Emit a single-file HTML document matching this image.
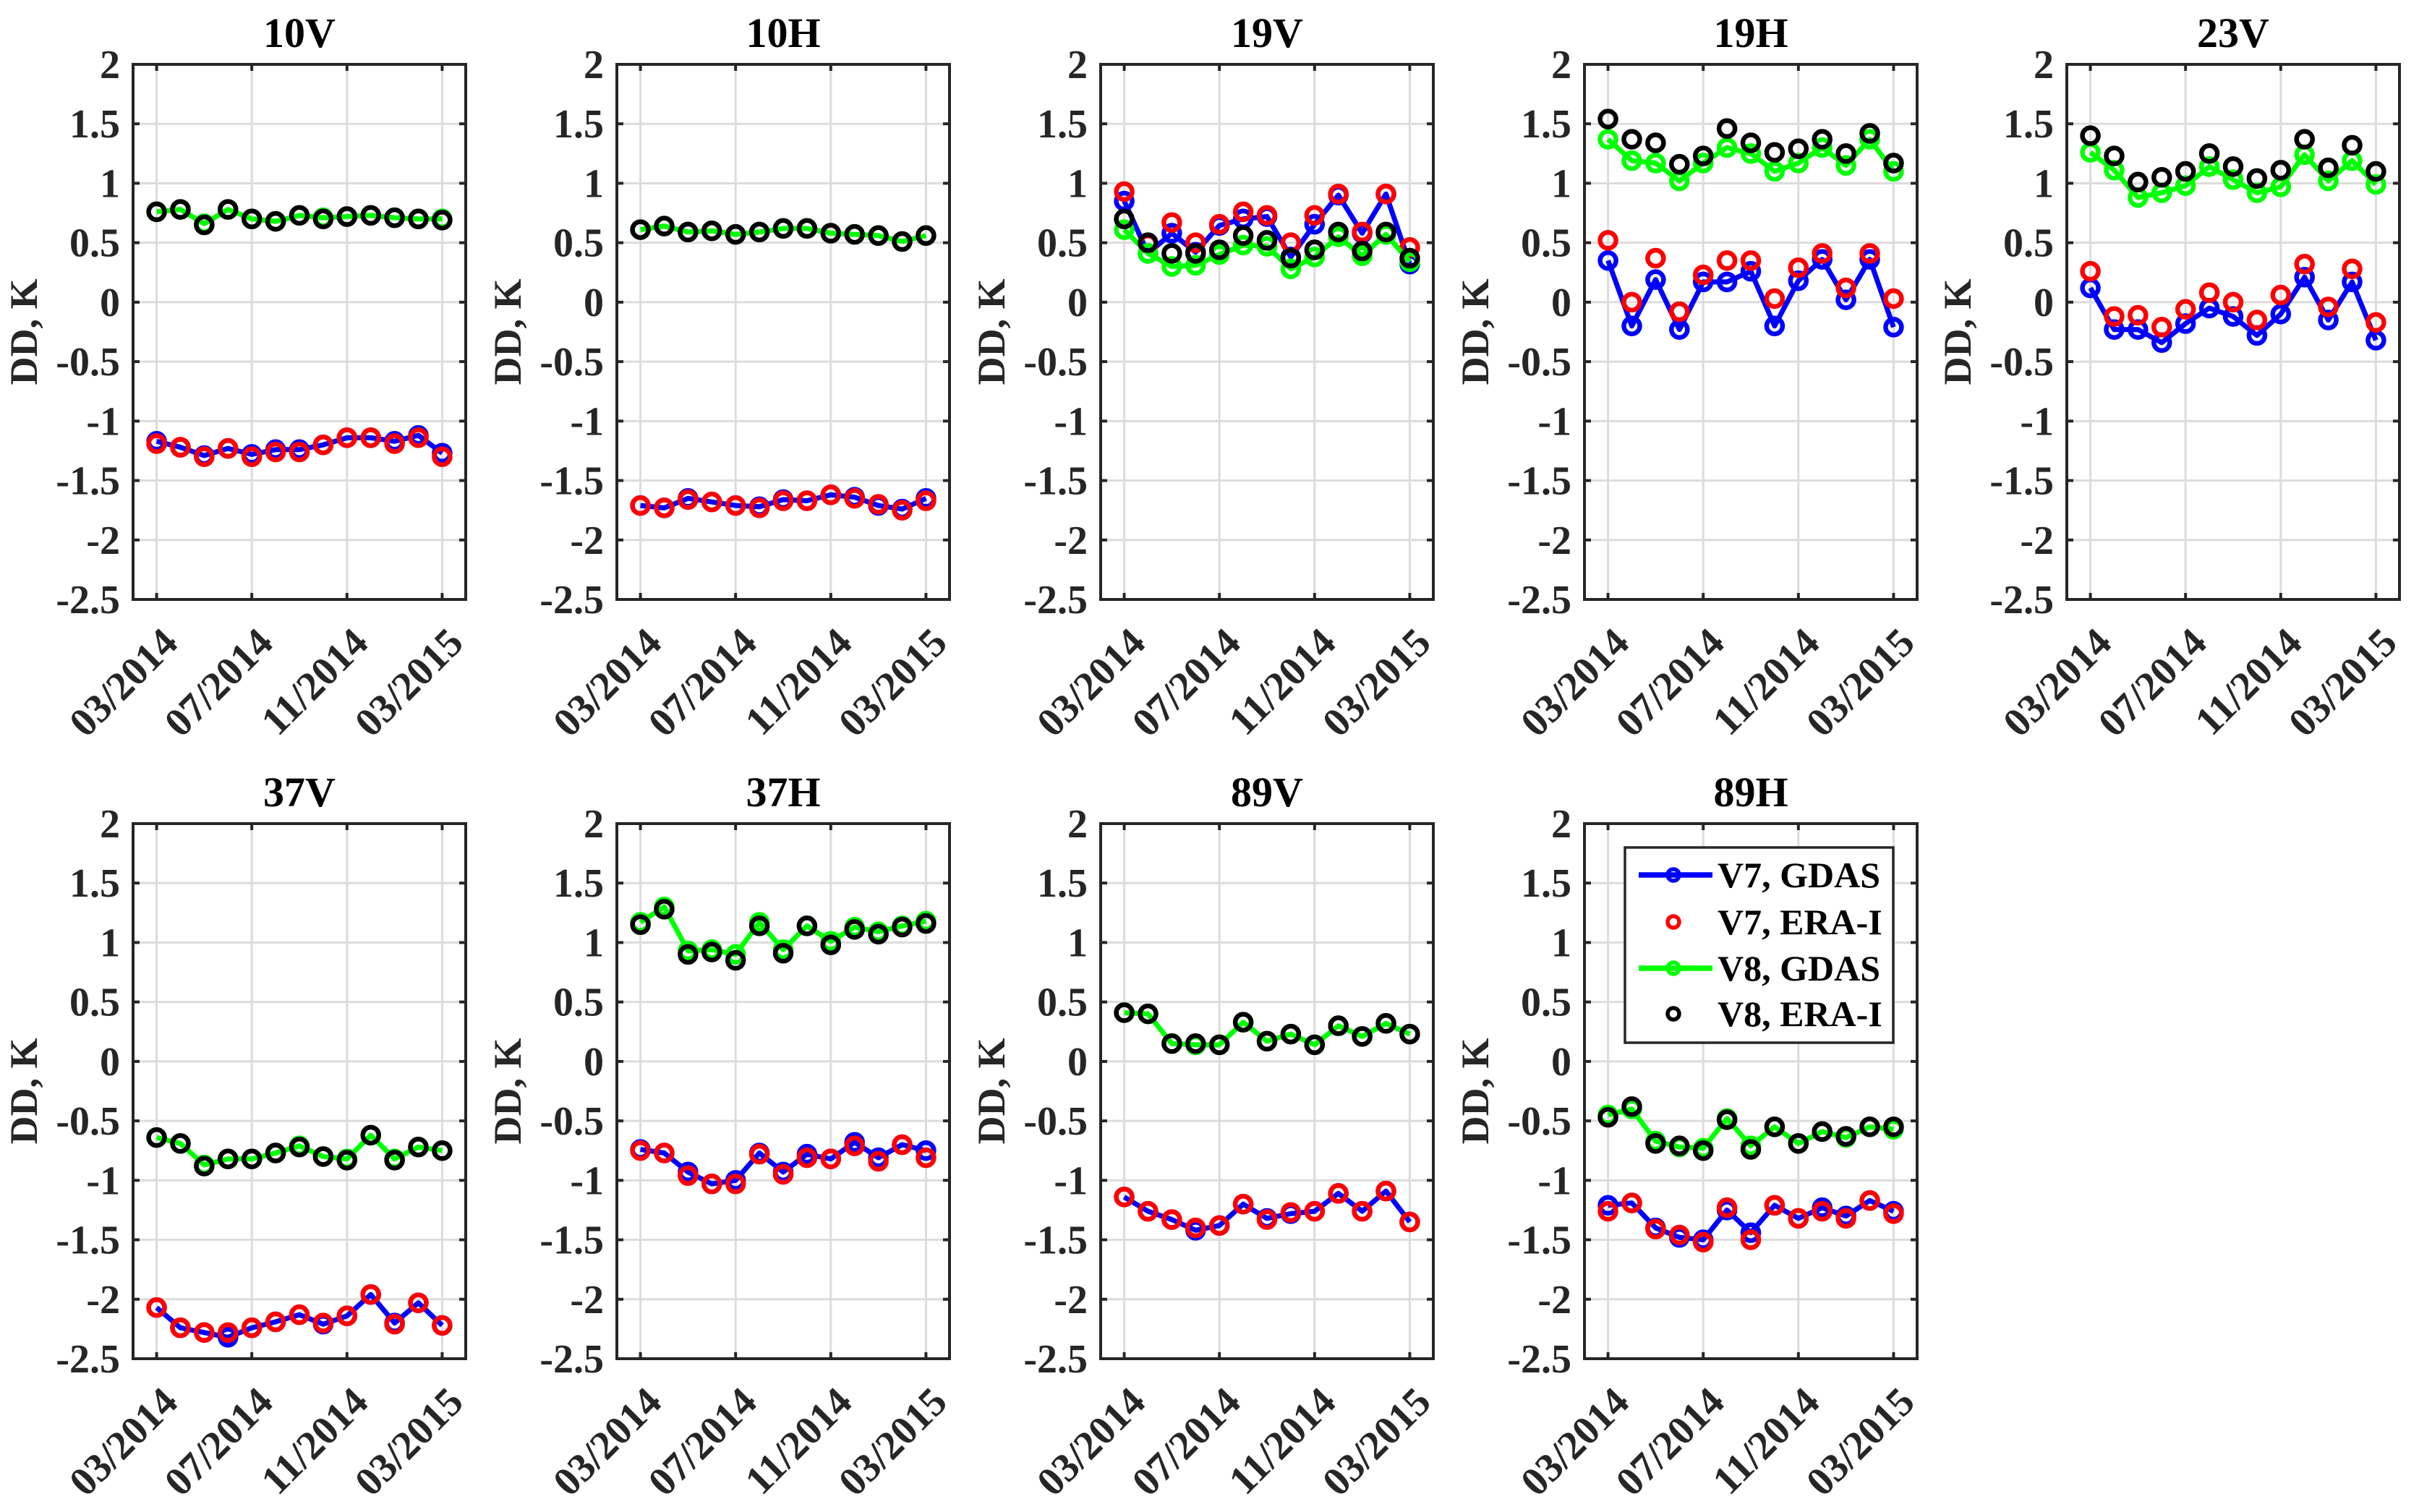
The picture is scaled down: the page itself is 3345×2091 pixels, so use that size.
<!DOCTYPE html>
<html><head><meta charset="utf-8">
<style>
html,body{margin:0;padding:0;background:#fff;}
svg{display:block;}
text{font-family:"Liberation Serif","DejaVu Serif",serif;font-weight:bold;}
</style></head>
<body>
<svg id="fig" width="3345" height="2091" viewBox="0 0 3345 2091" xmlns="http://www.w3.org/2000/svg"></svg>
<script>
// ---- data ----
const panelTitles = ["10V","10H","19V","19H","23V","37V","37H","89V","89H"];
const monthIndex = [0,1,2,3,4,5,6,7,8,9,10,11,12];
const xTickMonths = [0,4,8,12];
const xTickLabels = ["03/2014","07/2014","11/2014","03/2015"];
const yTicks = [2,1.5,1,0.5,0,-0.5,-1,-1.5,-2,-2.5];
const yTickLabels = ["2","1.5","1","0.5","0","-0.5","-1","-1.5","-2","-2.5"];
const seriesNames = ["V7, GDAS","V7, ERA-I","V8, GDAS","V8, ERA-I"];

const v7gdas_10V = [-1.17,-1.22,-1.29,-1.23,-1.28,-1.24,-1.24,-1.20,-1.14,-1.14,-1.17,-1.12,-1.27];
const v7era_10V  = [-1.19,-1.22,-1.30,-1.23,-1.30,-1.26,-1.26,-1.20,-1.14,-1.14,-1.19,-1.14,-1.30];
const v8gdas_10V = [0.76,0.78,0.66,0.78,0.70,0.68,0.73,0.71,0.72,0.73,0.71,0.70,0.70];
const v8era_10V  = [0.76,0.78,0.65,0.78,0.70,0.68,0.73,0.70,0.72,0.73,0.71,0.70,0.69];

const v7gdas_10H = [-1.71,-1.73,-1.65,-1.68,-1.71,-1.72,-1.66,-1.67,-1.62,-1.64,-1.71,-1.74,-1.65];
const v7era_10H  = [-1.71,-1.73,-1.66,-1.68,-1.71,-1.73,-1.67,-1.67,-1.62,-1.65,-1.70,-1.75,-1.67];
const v8gdas_10H = [0.61,0.64,0.59,0.60,0.57,0.59,0.62,0.62,0.58,0.57,0.56,0.51,0.56];
const v8era_10H  = [0.61,0.64,0.59,0.60,0.57,0.59,0.62,0.62,0.58,0.57,0.56,0.51,0.56];

const v7gdas_19V = [0.85,0.41,0.58,0.42,0.645,0.70,0.72,0.38,0.655,0.90,0.58,0.91,0.32];
const v7era_19V  = [0.93,0.49,0.67,0.50,0.655,0.76,0.73,0.50,0.73,0.91,0.59,0.91,0.46];
const v8gdas_19V = [0.61,0.41,0.30,0.31,0.40,0.48,0.47,0.28,0.38,0.55,0.39,0.57,0.34];
const v8era_19V  = [0.70,0.50,0.41,0.41,0.44,0.56,0.52,0.37,0.44,0.59,0.43,0.59,0.37];

const v7gdas_19H = [0.35,-0.20,0.19,-0.23,0.17,0.17,0.26,-0.20,0.18,0.36,0.02,0.36,-0.21];
const v7era_19H  = [0.52,0.00,0.37,-0.08,0.23,0.35,0.35,0.03,0.29,0.41,0.12,0.41,0.03];
const v8gdas_19H = [1.37,1.19,1.17,1.02,1.17,1.30,1.25,1.10,1.17,1.30,1.15,1.37,1.10];
const v8era_19H  = [1.54,1.37,1.34,1.16,1.23,1.46,1.34,1.26,1.29,1.37,1.25,1.42,1.17];

const v7gdas_23V = [0.12,-0.23,-0.23,-0.34,-0.18,-0.05,-0.12,-0.28,-0.10,0.21,-0.15,0.17,-0.32];
const v7era_23V  = [0.26,-0.12,-0.11,-0.21,-0.06,0.08,0.00,-0.15,0.06,0.32,-0.04,0.28,-0.17];
const v8gdas_23V = [1.26,1.11,0.88,0.92,0.98,1.14,1.03,0.92,0.97,1.24,1.02,1.19,0.99];
const v8era_23V  = [1.40,1.23,1.01,1.05,1.10,1.25,1.14,1.04,1.11,1.37,1.13,1.32,1.10];

const v7gdas_37V = [-2.07,-2.24,-2.28,-2.32,-2.24,-2.19,-2.13,-2.21,-2.14,-1.96,-2.20,-2.03,-2.22];
const v7era_37V  = [-2.07,-2.24,-2.28,-2.28,-2.24,-2.19,-2.13,-2.20,-2.14,-1.96,-2.21,-2.03,-2.22];
const v8gdas_37V = [-0.64,-0.69,-0.87,-0.82,-0.82,-0.77,-0.71,-0.80,-0.82,-0.62,-0.82,-0.72,-0.75];
const v8era_37V  = [-0.64,-0.69,-0.88,-0.82,-0.82,-0.77,-0.72,-0.80,-0.83,-0.62,-0.83,-0.72,-0.75];

const v7gdas_37H = [-0.74,-0.77,-0.93,-1.03,-1.00,-0.77,-0.93,-0.78,-0.82,-0.68,-0.81,-0.70,-0.75];
const v7era_37H  = [-0.75,-0.77,-0.96,-1.03,-1.03,-0.78,-0.95,-0.81,-0.82,-0.71,-0.84,-0.70,-0.81];
const v8gdas_37H = [1.17,1.30,0.93,0.94,0.90,1.17,0.94,1.14,1.01,1.13,1.09,1.14,1.18];
const v8era_37H  = [1.15,1.28,0.90,0.92,0.85,1.14,0.91,1.14,0.98,1.11,1.07,1.13,1.16];

const v7gdas_89V = [-1.14,-1.26,-1.33,-1.42,-1.38,-1.20,-1.32,-1.28,-1.26,-1.11,-1.26,-1.09,-1.35];
const v7era_89V  = [-1.14,-1.26,-1.33,-1.40,-1.38,-1.20,-1.33,-1.27,-1.26,-1.11,-1.26,-1.09,-1.35];
const v8gdas_89V = [0.41,0.40,0.15,0.14,0.14,0.33,0.17,0.23,0.14,0.30,0.21,0.32,0.23];
const v8era_89V  = [0.41,0.40,0.15,0.15,0.14,0.33,0.17,0.23,0.14,0.30,0.21,0.32,0.23];

const v7gdas_89H = [-1.21,-1.19,-1.40,-1.48,-1.50,-1.25,-1.44,-1.21,-1.32,-1.23,-1.30,-1.17,-1.26];
const v7era_89H  = [-1.26,-1.19,-1.41,-1.46,-1.52,-1.23,-1.50,-1.21,-1.32,-1.26,-1.32,-1.17,-1.28];
const v8gdas_89H = [-0.45,-0.40,-0.67,-0.72,-0.73,-0.48,-0.71,-0.55,-0.69,-0.59,-0.64,-0.55,-0.57];
const v8era_89H  = [-0.47,-0.38,-0.69,-0.71,-0.75,-0.49,-0.74,-0.55,-0.69,-0.59,-0.63,-0.55,-0.55];

const panelData = [
  [v7gdas_10V,v7era_10V,v8gdas_10V,v8era_10V],
  [v7gdas_10H,v7era_10H,v8gdas_10H,v8era_10H],
  [v7gdas_19V,v7era_19V,v8gdas_19V,v8era_19V],
  [v7gdas_19H,v7era_19H,v8gdas_19H,v8era_19H],
  [v7gdas_23V,v7era_23V,v8gdas_23V,v8era_23V],
  [v7gdas_37V,v7era_37V,v8gdas_37V,v8era_37V],
  [v7gdas_37H,v7era_37H,v8gdas_37H,v8era_37H],
  [v7gdas_89V,v7era_89V,v8gdas_89V,v8era_89V],
  [v7gdas_89H,v7era_89H,v8gdas_89H,v8era_89H]
];

// ---- layout ----
const NS = "http://www.w3.org/2000/svg";
const svg = document.getElementById("fig");
const colLeft = [184,853,1522,2191,2858];
const rowTop = [89,1139];
const PW = 460, PH = 740;
const X0 = -0.99, X1 = 12.99, Y0 = -2.5, Y1 = 2;
const colors = ["#0000ff","#ff0000","#00ff00","#000000"];
const hasLine = [true,false,true,false];

function mk(tag, attrs, parent){
  const e = document.createElementNS(NS, tag);
  for (const k in attrs) e.setAttribute(k, attrs[k]);
  (parent||svg).appendChild(e);
  return e;
}

panelData.forEach((series, p) => {
  const left = colLeft[p % 5], top = rowTop[Math.floor(p / 5)];
  const sx = m => left + (m - X0) / (X1 - X0) * PW;
  const sy = v => top + (Y1 - v) / (Y1 - Y0) * PH;
  const g = mk("g", {});
  
  

  yTicks.forEach(t => {
    const l = mk("line", {x1:left, x2:left+PW, y1:sy(t), y2:sy(t), stroke:"#dcdcdc", "stroke-width":3}, g);
    
    
  });
  xTickMonths.forEach(t => {
    const l = mk("line", {x1:sx(t), x2:sx(t), y1:top, y2:top+PH, stroke:"#dcdcdc", "stroke-width":3}, g);
    
    
  });

  series.forEach((vals, s) => {
    if (hasLine[s]) {
      const pts = vals.map((v,i) => sx(monthIndex[i]) + "," + sy(v)).join(" ");
      const pl = mk("polyline", {points:pts, fill:"none", stroke:colors[s], "stroke-width":7, "stroke-linejoin":"round"}, g);
      
      
    }
    vals.forEach((v,i) => {
      const c = mk("circle", {cx:sx(monthIndex[i]), cy:sy(v), r:11, fill:"none", stroke:colors[s], "stroke-width":6.5}, g);
      
      
    });
  });

  const box = mk("rect", {x:left, y:top, width:PW, height:PH, fill:"none", stroke:"#262626", "stroke-width":4}, g);
  
  

  yTicks.forEach((t,i) => {
    mk("line", {x1:left, x2:left+9, y1:sy(t), y2:sy(t), stroke:"#262626", "stroke-width":4}, g);
    mk("line", {x1:left+PW-9, x2:left+PW, y1:sy(t), y2:sy(t), stroke:"#262626", "stroke-width":4}, g);
    const tx = mk("text", {x:left-18, y:sy(t)+19, "text-anchor":"end", "font-size":56, fill:"#262626"}, g);
    
    
    tx.textContent = yTickLabels[i];
  });
  xTickMonths.forEach((t,i) => {
    mk("line", {x1:sx(t), x2:sx(t), y1:top, y2:top+9, stroke:"#262626", "stroke-width":4}, g);
    mk("line", {x1:sx(t), x2:sx(t), y1:top+PH-9, y2:top+PH, stroke:"#262626", "stroke-width":4}, g);
    const ax = sx(t) + 32, ay = top + PH + 63;
    const tx = mk("text", {x:ax, y:ay, "text-anchor":"end", "font-size":56, fill:"#262626", transform:"rotate(-45 "+ax+" "+ay+")"}, g);
    
    
    tx.textContent = xTickLabels[i];
  });

  const ti = mk("text", {x:left+PW/2, y:top-24, "text-anchor":"middle", "font-size":58, fill:"#000"}, g);
  
  
  ti.textContent = panelTitles[p];

  const yx = left - 133, yy = top + PH/2;
  const yl = mk("text", {x:yx, y:yy, "text-anchor":"middle", "font-size":54, fill:"#262626", transform:"rotate(-90 "+yx+" "+yy+")"}, g);
  
  
  yl.textContent = "DD, K";
});

const lg = mk("g", {});


mk("rect", {x:2247, y:1172, width:371, height:270, fill:"#fff", stroke:"#262626", "stroke-width":3.5}, lg);
const legRows = [1210,1275,1339,1402];
seriesNames.forEach((n, s) => {
  const y = legRows[s];
  const e = mk("g", {}, lg);
  
  
  if (hasLine[s]) mk("line", {x1:2266, x2:2368, y1:y, y2:y, stroke:colors[s], "stroke-width":7.5}, e);
  mk("circle", {cx:2314, cy:y, r:8, fill:"none", stroke:colors[s], "stroke-width":5.5}, e);
  const t = mk("text", {x:2375, y:y+17, "font-size":50, fill:"#000"}, e);
  t.textContent = n;
});
</script>
</body></html>
